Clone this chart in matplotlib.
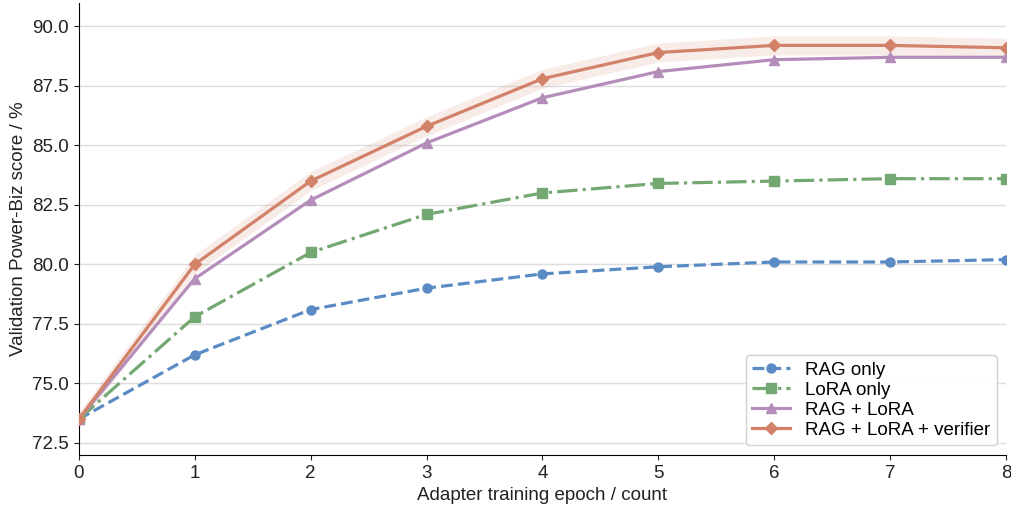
import matplotlib
matplotlib.use('Agg')
import matplotlib.pyplot as plt
import numpy as np

plt.rcParams['font.family'] = ['Liberation Sans', 'DejaVu Sans']

epochs = [0, 1, 2, 3, 4, 5, 6, 7, 8]
rag_only = [73.5, 76.2, 78.1, 79.0, 79.6, 79.9, 80.1, 80.1, 80.2]
lora_only = [73.5, 77.8, 80.5, 82.1, 83.0, 83.4, 83.5, 83.6, 83.6]
rag_lora = [73.5, 79.4, 82.7, 85.1, 87.0, 88.1, 88.6, 88.7, 88.7]
rag_lora_ver = [73.5, 80.0, 83.5, 85.8, 87.8, 88.9, 89.2, 89.2, 89.1]
ver_band = [0.3, 0.4, 0.4, 0.4, 0.4, 0.4, 0.4, 0.4, 0.4]

fig, ax = plt.subplots(figsize=(10.11, 5.11), dpi=100)

ver = np.array(rag_lora_ver)
band = np.array(ver_band)
ax.fill_between(epochs, ver - band, ver + band, color='#D3826A', alpha=0.15, linewidth=0, zorder=1)

ax.plot(epochs, rag_only, color='#5B8BC5', linestyle='--', marker='o', markersize=6.5,
        linewidth=2.3, label='RAG only', zorder=3)
ax.plot(epochs, lora_only, color='#74A872', linestyle='-.', marker='s', markersize=6.5,
        linewidth=2.3, label='LoRA only', zorder=3)
ax.plot(epochs, rag_lora, color='#B48DBA', linestyle='-', marker='^', markersize=7,
        linewidth=2.3, label='RAG + LoRA', zorder=3)
ax.plot(epochs, rag_lora_ver, color='#D3826A', linestyle='-', marker='D', markersize=6.5,
        linewidth=2.3, label='RAG + LoRA + verifier', zorder=4)

ax.set_xlim(0, 8)
ax.set_ylim(72.0, 91.0)
ax.set_yticks([72.5, 75.0, 77.5, 80.0, 82.5, 85.0, 87.5, 90.0])
ax.set_xticks(epochs)
ax.tick_params(labelsize=13.5, colors='#222222')
ax.yaxis.grid(True, color='#dddddd', linewidth=1)
ax.set_axisbelow(True)
for s in ['top', 'right']:
    ax.spines[s].set_visible(False)

ax.set_xlabel('Adapter training epoch / count', fontsize=13.5, color='#222222')
ax.set_ylabel('Validation Power-Biz score / %', fontsize=13.5, color='#222222')
ax.legend(loc='lower right', fontsize=13.5, handlelength=2, labelspacing=0.15,
          borderpad=0.35, framealpha=0.9)

fig.subplots_adjust(left=0.078, right=0.995, top=0.995, bottom=0.11)
fig.savefig('out.png', dpi=100)
